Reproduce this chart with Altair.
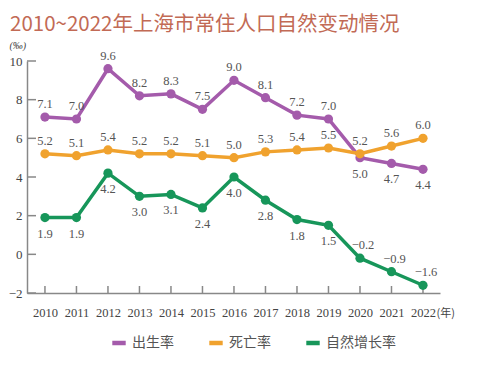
import altair as alt
import pandas as pd

years = list(range(2010, 2023))
birth = [7.1, 7.0, 9.6, 8.2, 8.3, 7.5, 9.0, 8.1, 7.2, 7.0, 5.0, 4.7, 4.4]
death = [5.2, 5.1, 5.4, 5.2, 5.2, 5.1, 5.0, 5.3, 5.4, 5.5, 5.2, 5.6, 6.0]
natural = [1.9, 1.9, 4.2, 3.0, 3.1, 2.4, 4.0, 2.8, 1.8, 1.5, -0.2, -0.9, -1.6]
series = ["出生率", "死亡率", "自然增长率"]
colors = ["#a45bab", "#f0a22e", "#17965a"]
y_ticks = [-2, 0, 2, 4, 6, 8, 10]
title_text = "2010~2022年上海市常住人口自然变动情况"

rows = []
for name, vals in zip(series, [birth, death, natural]):
    for yr, v in zip(years, vals):
        rows.append({"year": yr, "value": v, "series": name})
df = pd.DataFrame(rows)

W, H = 413, 232
xscale = alt.Scale(domain=[2009.43, 2022.54], nice=False, zero=False)
yscale = alt.Scale(domain=[-2, 10], nice=False, zero=False)
cscale = alt.Scale(domain=series, range=colors)

serif = "Liberation Serif, serif"
cjk = "Noto Sans CJK SC"

xaxis = alt.Axis(values=years, format="d", tickSize=0, grid=False,
                 labelFont=serif, labelFontSize=12.5, labelColor="#444",
                 labelPadding=13, labelOverlap=False,
                 domainColor="#888", domainWidth=1.5,
                 title="(年)", titleFont=cjk, titleFontSize=11,
                 titleFontWeight="normal", titleColor="#444",
                 titleX=W - 4, titleY=20, titleAlign="left",
                 titleBaseline="middle")
yaxis = alt.Axis(values=y_ticks, tickSize=0, grid=False, labelOverlap=False,
                 labelFont=serif, labelFontSize=13, labelColor="#444",
                 labelPadding=5, domainColor="#888", domainWidth=1.5,
                 title="(‰)", titleFont=serif, titleFontSize=10,
                 titleFontStyle="italic", titleFontWeight="normal",
                 titleColor="#444", titleAngle=0, titleX=-18, titleY=-16,
                 titleAlign="left", titleBaseline="middle")

base = alt.Chart(df)

lines = base.mark_line(strokeWidth=3.5).encode(
    x=alt.X("year:Q", scale=xscale, axis=xaxis),
    y=alt.Y("value:Q", scale=yscale, axis=yaxis),
    color=alt.Color("series:N", scale=cscale, sort=series,
                    legend=alt.Legend(title=None, orient="none", direction="horizontal",
                                      legendX=83, legendY=273,
                                      symbolType="stroke", symbolStrokeWidth=4.5,
                                      symbolSize=180, labelFont=cjk, labelFontSize=14,
                                      labelColor="#555", columnPadding=26,
                                      labelOffset=4)),
)

points = base.mark_circle(size=85, opacity=1).encode(
    x=alt.X("year:Q", scale=xscale, axis=xaxis),
    y=alt.Y("value:Q", scale=yscale, axis=yaxis),
    color=alt.Color("series:N", scale=cscale, sort=series, legend=None),
)

def labels(flt, dy, dx=0):
    return base.transform_filter(flt).mark_text(
        font=serif, fontSize=12.5, color="#555", dy=dy, dx=dx
    ).encode(
        x=alt.X("year:Q", scale=xscale, axis=xaxis),
        y=alt.Y("value:Q", scale=yscale, axis=yaxis),
        text=alt.Text("value:Q", format=".1f"),
    )

lab_b_up = labels("datum.series == '出生率' && datum.year < 2020", -13)
lab_b_dn = labels("datum.series == '出生率' && datum.year >= 2020", 16)
lab_d_up = labels("datum.series == '死亡率'", -13)
lab_n_dn = labels("datum.series == '自然增长率' && datum.year < 2020", 16)
lab_n_up = labels("datum.series == '自然增长率' && datum.year >= 2020", -13, 3)

ytick_df = pd.DataFrame({"value": y_ticks})
yticks = alt.Chart(ytick_df).mark_rule(color="#888", strokeWidth=1.5).encode(
    y=alt.Y("value:Q", scale=yscale, axis=yaxis), x=alt.value(0), x2=alt.value(9)
)
xtick_df = pd.DataFrame({"year": years})
xticks = alt.Chart(xtick_df).mark_rule(color="#888", strokeWidth=1.5).encode(
    x=alt.X("year:Q", scale=xscale, axis=xaxis), y=alt.value(H), y2=alt.value(H - 7)
)

chart = alt.layer(
    lines, yticks, xticks, points, lab_b_up, lab_b_dn, lab_d_up, lab_n_dn, lab_n_up
).properties(
    width=W, height=H,
    title=alt.Title(title_text, anchor="start", frame="group", dx=-17, offset=5,
                    limit=480, font=cjk, fontSize=20.5, fontWeight="normal",
                    color="#c26a55"),
    autosize=alt.AutoSizeParams(type="none"),
    padding={"left": 19, "top": 53, "right": 52, "bottom": 65},
).configure_view(stroke=None).configure_axis(labelFlush=False)

chart.save("out.html", embed_options={"renderer": "svg", "actions": False})
